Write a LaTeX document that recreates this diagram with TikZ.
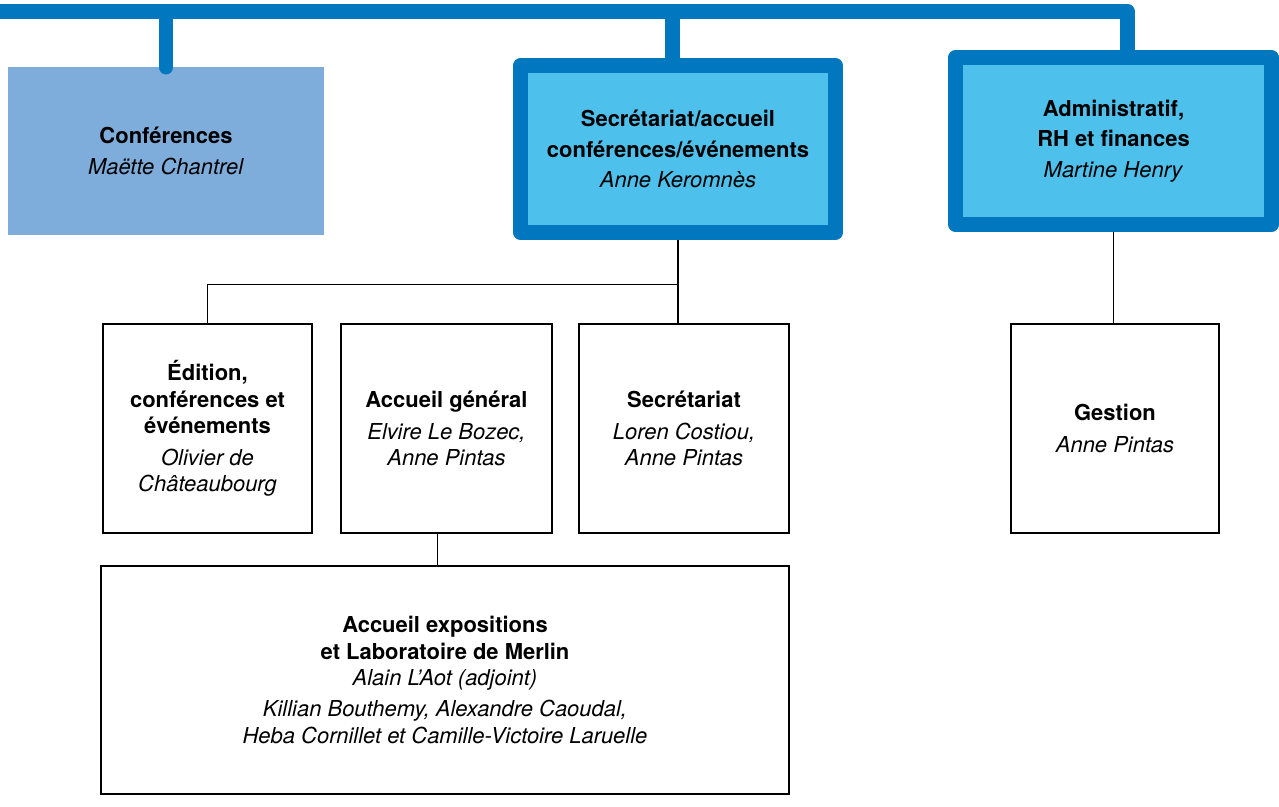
\documentclass[tikz,border=0pt]{standalone}
\usepackage{fontspec}
\setmainfont{TeX Gyre Heros}
\usepackage{tikz}
\definecolor{barblue}{RGB}{0,119,190}
\definecolor{skyfill}{RGB}{77,192,235}
\definecolor{conffill}{RGB}{127,173,219}

\begin{document}
\begin{tikzpicture}
[
x=0.02cm, y=-0.02cm,
every node/.style={inner sep=0pt, outer sep=0pt, align=center, font=\fontsize{12.5}{17.5}\selectfont},
headbox/.style={draw=barblue, line width=8.5pt, line join=round, fill=skyfill, outer sep=4.25pt},
plainbox/.style={draw, line width=1.1pt, minimum height=4.18cm, font=\fontsize{12.5}{15}\selectfont},
bar/.style={draw=barblue, line width=8.5pt, line join=round},
link/.style={draw, line width=0.85pt}
]
\useasboundingbox (0,0) rectangle (1279,806);

% top level
\node[fill=conffill, minimum width=6.32cm, minimum height=3.36cm] (conf) at (166,151)
  {\textbf{Conférences}\\\textit{Maëtte Chantrel}};
\node[headbox, minimum width=6.3cm, minimum height=3.34cm] (secacc) at (678,149)
  {\textbf{Secrétariat/accueil}\\\textbf{conférences/événements}\\\textit{Anne Keromnès}};
\node[headbox, minimum width=6.32cm, minimum height=3.34cm] (admin) at (1113.5,141)
  {\textbf{Administratif,}\\\textbf{RH et finances}\\\textit{Martine Henry}};

% second level
\node[plainbox, minimum width=4.18cm] (edit) at (207.5,428.5)
  {\textbf{Édition,}\\\textbf{conférences et}\\\textbf{événements}\\[3pt]\textit{Olivier de}\\\textit{Châteaubourg}};
\node[plainbox, minimum width=4.22cm] (accgen) at (446.5,428.5)
  {\textbf{Accueil général}\\[3pt]\textit{Elvire Le Bozec,}\\\textit{Anne Pintas}};
\node[plainbox, minimum width=4.2cm] (secr) at (684,428.5)
  {\textbf{Secrétariat}\\[3pt]\textit{Loren Costiou,}\\\textit{Anne Pintas}};
\node[plainbox, minimum width=4.16cm] (gest) at (1115,428.5)
  {\textbf{Gestion}\\[3pt]\textit{Anne Pintas}};

% third level
\node[plainbox, minimum width=13.76cm, minimum height=4.56cm] (expo) at (445,680)
  {\textbf{Accueil expositions}\\\textbf{et Laboratoire de Merlin}\\\textit{Alain L’Aot (adjoint)}\\[3pt]\textit{Killian Bouthemy, Alexandre Caoudal,}\\\textit{Heba Cornillet et Camille-Victoire Laruelle}};

% blue bar
\coordinate (barL) at (0,11.5);
\coordinate (barR) at (1127.5,11.5);
\draw[bar] (barL) -- (barR) -- (barR |- admin.north);
\draw[bar, line cap=round] (conf.north |- barL) -- (conf.north);
\draw[bar] ([xshift=-0.11cm]secacc.north |- barL) -- ([xshift=-0.11cm]secacc.north);

% black links
\coordinate (split) at (678,284.3);
\draw[link] (secacc.south) -- (secacc.south |- secr.north);
\draw[link] (split) -| (edit.north);
\draw[link] ([xshift=-0.18cm]accgen.south) -- ([xshift=-0.18cm]accgen.south |- expo.north);
\draw[link] (admin.south) -- (admin.south |- gest.north);
\end{tikzpicture}
\end{document}
